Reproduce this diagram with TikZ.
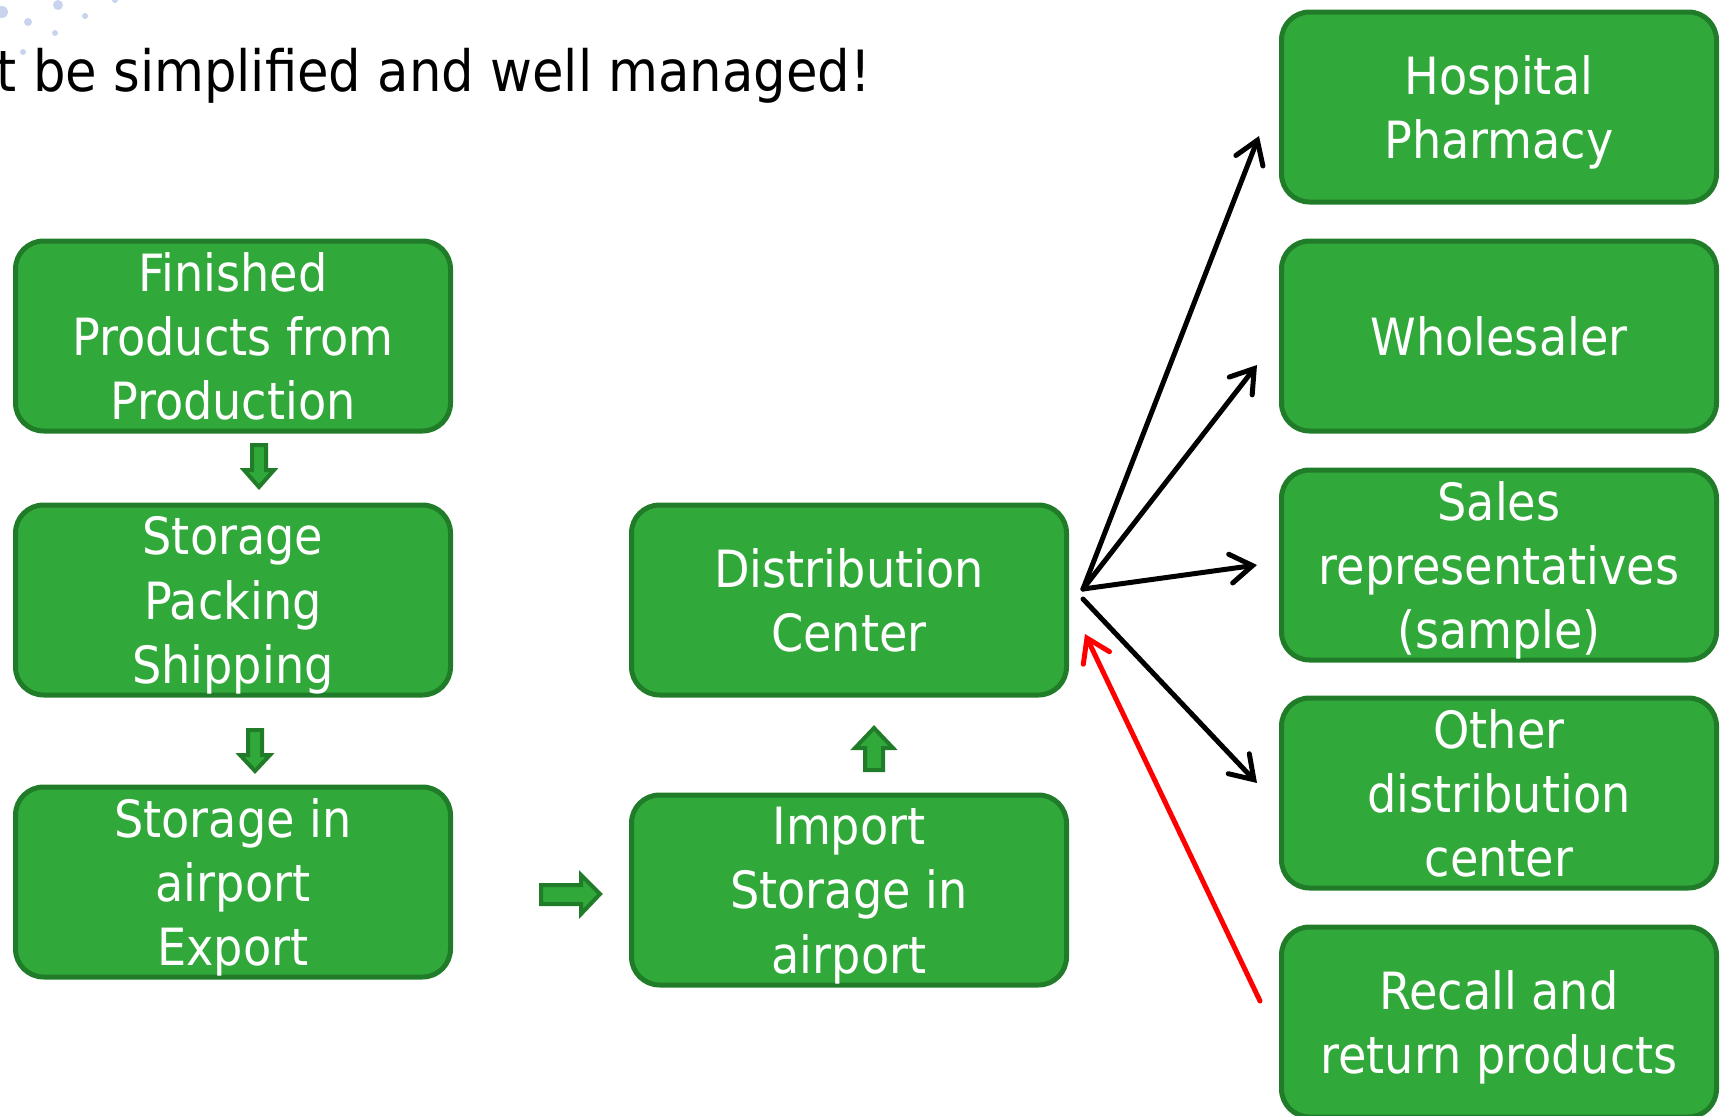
\documentclass[tikz,border=0pt]{standalone}
\usepackage{fontspec}
\setmainfont{DejaVu Sans Condensed}
\usetikzlibrary{arrows.meta}
\definecolor{boxgreen}{RGB}{49,168,58}
\definecolor{boxedge}{RGB}{33,124,41}
\definecolor{dotblue}{RGB}{200,212,238}

\begin{document}
\begin{tikzpicture}[x=0.1mm,y=-0.1mm,
	box/.style={draw=boxedge, fill=boxgreen, line width=0.5mm, rounded corners=2.8mm,
		minimum width=43.5mm, minimum height=19mm, inner sep=0pt, align=center,
		text=white, font=\fontsize{14.6}{18.3}\selectfont, text depth=-0.8pt},
	blockarr/.style={draw=boxedge, fill=boxgreen, line width=0.4mm},
	arr/.style={line width=0.5mm, line cap=round,
		-{Straight Barb[length=2.2mm, width=2.9mm, line cap=round]}}]
		\useasboundingbox (0,0) rectangle (1721,1116);
		\clip (0,0) rectangle (1721,1116);

		% dots in the corner
		\foreach \x/\y/\r in {2/12/6, 58/5/5, 85/16/3, 28/22/4, 55/33/3, 23/52/3, 115/0/3}{
			\fill[dotblue] (\x,\y) circle[radius=\r];
		}

		\node[anchor=base west, inner sep=0pt, font=\fontsize{16.2}{19}\selectfont] (title) at (-4,92) {t be simplified and well managed!};

		% left column
		\node[box] (fin) at (233,336) {Finished\\Products from\\Production};
		\node[box] (pack) at (233,600) {Storage\\Packing\\Shipping};
		\node[box] (expo) at (233,882) {Storage in\\airport\\Export};

		% middle column
		\node[box] (dist) at (849,600) {Distribution\\Center};
		\node[box] (impo) at (849,890) {Import\\Storage in\\airport};

		% right column
		\node[box] (hosp) at (1499,107) {Hospital\\Pharmacy};
		\node[box] (whol) at (1499,336) {Wholesaler};
		\node[box] (sales) at (1499,565) {Sales\\representatives\\(sample)};
		\node[box] (other) at (1499,793) {Other\\distribution\\center};
		\node[box] (recall) at (1499,1022) {Recall and\\return products};

		% block arrows
		\draw[blockarr] (252,445) -- (266,445) -- (266,470) -- (274,470) -- (259,487) -- (244,470) -- (252,470) -- cycle;
		\draw[blockarr] (248,730) -- (262,730) -- (262,755) -- (270,755) -- (255,771) -- (240,755) -- (248,755) -- cycle;
		\draw[blockarr] (541,885) -- (581,885) -- (581,875) -- (600,894) -- (581,914) -- (581,904) -- (541,904) -- cycle;
		\draw[blockarr] (865,770) -- (883,770) -- (883,748) -- (893,748) -- (874,728) -- (855,748) -- (865,748) -- cycle;

		% distribution
		\coordinate (hub) at ([shift={(14,-11)}]dist.east);
		\draw[arr] (hub) -- ([shift={(-20,29)}]hosp.west);
		\draw[arr] (hub) -- ([shift={(-22,29)}]whol.west);
		\draw[arr] (hub) -- ([shift={(-22,0)}]sales.west);
		\draw[arr] ([shift={(0,10)}]hub) -- ([shift={(-22,-10)}]other.west);
		\draw[arr, red] ([shift={(-19,-21)}]recall.west) -- ([shift={(16,34)}]dist.east);

	\end{tikzpicture}
\end{document}
